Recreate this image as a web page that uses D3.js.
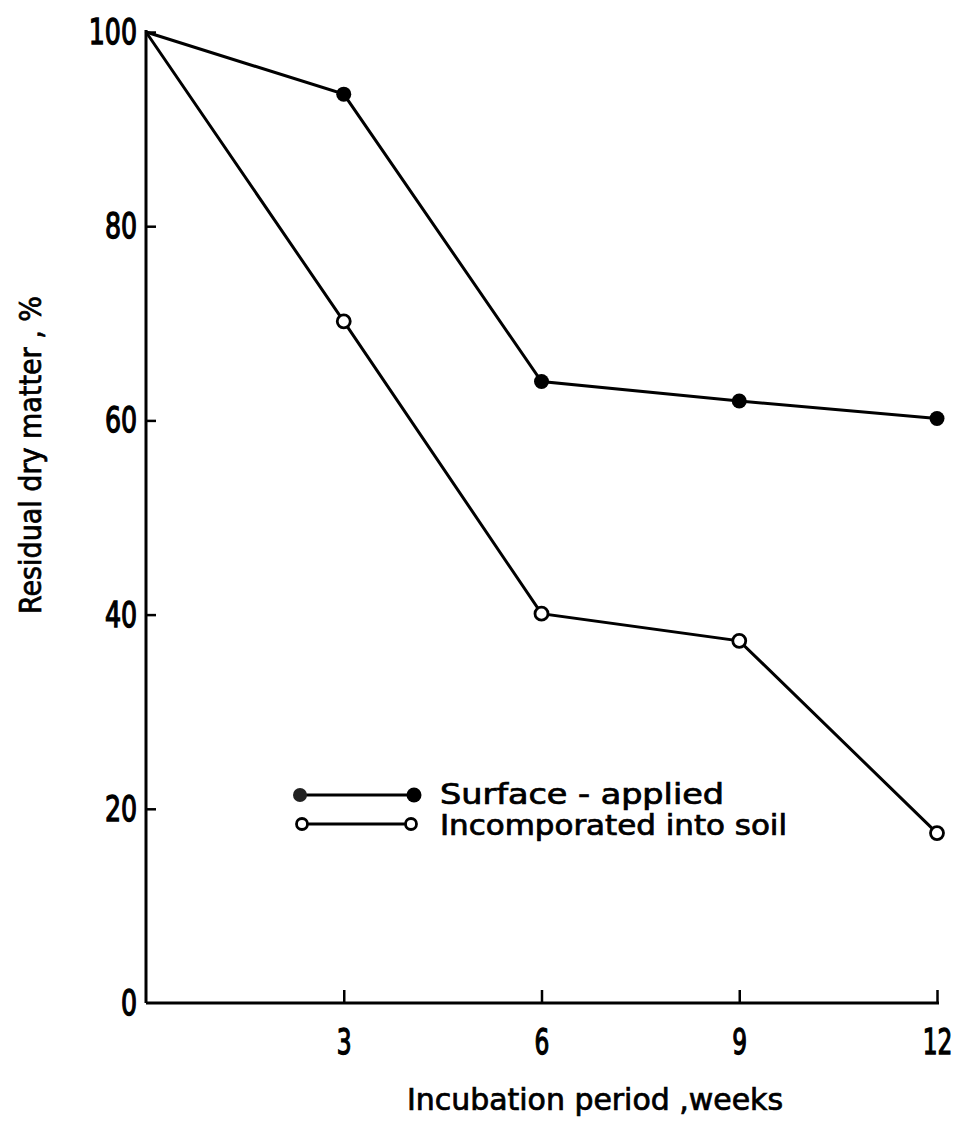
<!DOCTYPE html>
<html><head><meta charset="utf-8">
<script src="https://cdn.jsdelivr.net/npm/d3@7"></script>
<style>body{margin:0;background:#fff}svg{display:block}</style>
</head><body>
<svg id="c" width="960" height="1122"></svg>
<script>
const weeks = [0, 3, 6, 9, 12];
const surfaceApplied = [100, 93.6, 64.0, 62.0, 60.2];
const incorporated = [100, 70.2, 40.1, 37.3, 17.5];
const xTicks = [3, 6, 9, 12];
const yTicks = [0, 20, 40, 60, 80, 100];
const seriesNames = ["Surface - applied", "Incomporated into soil"];

const svg = d3.select("#c");
const font = "'DejaVu Sans Condensed', 'DejaVu Sans', sans-serif";
const x = d3.scaleLinear().domain([0, 12]).range([146, 937]);
const y = d3.scaleLinear().domain([0, 100]).range([1003, 32]);

function styleText(sel, size, sw) {
  sel.attr("font-family", font).attr("font-size", size).attr("fill", "#000")
     .attr("stroke", "#000").attr("stroke-width", sw || 0.7).attr("lengthAdjust", "spacingAndGlyphs");
}

// axes
const sxX = 0.72, sxY = 0.78;
const xAxis = d3.axisBottom(x).tickValues(xTicks).tickSize(-13).tickPadding(25).tickFormat(d3.format("d"));
const gx = svg.append("g").attr("transform", `translate(0,${y(0)})`).call(xAxis);
gx.select(".domain").attr("d", `M${x(0)},0H${x(12)+2}`).attr("stroke-width", 3);
gx.selectAll(".tick line").attr("stroke-width", 2.5);
gx.selectAll("text").call(styleText, 36, 1.3).attr("dy", "0.71em")
  .attr("transform", `scale(${sxX},1)`);

const yAxis = d3.axisLeft(y).tickValues(yTicks).tickSize(-10).tickPadding(10).tickFormat(d3.format("d"));
const gy = svg.append("g").attr("transform", `translate(${x(0)},0)`).call(yAxis);
gy.select(".domain").attr("d", `M0,${y(100)-2}V${y(0)}`).attr("stroke-width", 3);
gy.selectAll(".tick line").attr("stroke-width", 2.5);
gy.selectAll(".tick").filter(d => d === 0).select("line").remove();
gy.selectAll("text").call(styleText, 36, 1.3).attr("x", -9 / sxY)
  .attr("transform", `scale(${sxY},1)`);

// lines
const line = d3.line().x((d, i) => x(weeks[i])).y(d => y(d));
[surfaceApplied, incorporated].forEach(s => {
  svg.append("path").attr("d", line(s)).attr("fill", "none").attr("stroke", "#000").attr("stroke-width", 3);
});
svg.selectAll(".pS").data(surfaceApplied.slice(1)).join("circle")
  .attr("cx", (d, i) => x(weeks[i + 1])).attr("cy", d => y(d)).attr("r", 7.5).attr("fill", "#000");
svg.selectAll(".pI").data(incorporated.slice(1)).join("circle")
  .attr("cx", (d, i) => x(weeks[i + 1])).attr("cy", d => y(d)).attr("r", 6.5)
  .attr("fill", "#fff").attr("stroke", "#000").attr("stroke-width", 2.8);

// legend
const lg = svg.append("g");
lg.append("line").attr("x1", 300).attr("x2", 413).attr("y1", 795).attr("y2", 795).attr("stroke", "#000").attr("stroke-width", 3);
lg.append("circle").attr("cx", 300).attr("cy", 795).attr("r", 7).attr("fill", "#222");
lg.append("circle").attr("cx", 414).attr("cy", 795).attr("r", 7.5).attr("fill", "#000");
lg.append("line").attr("x1", 302).attr("x2", 412).attr("y1", 824).attr("y2", 824).attr("stroke", "#000").attr("stroke-width", 3);
lg.append("circle").attr("cx", 302).attr("cy", 824).attr("r", 5.5).attr("fill", "#fff").attr("stroke", "#000").attr("stroke-width", 2.8);
lg.append("circle").attr("cx", 411).attr("cy", 824).attr("r", 5.5).attr("fill", "#fff").attr("stroke", "#000").attr("stroke-width", 2.8);
lg.append("text").attr("x", 440).attr("y", 804).text(seriesNames[0])
  .call(styleText, 28).attr("textLength", 284);
lg.append("text").attr("x", 440).attr("y", 835).text(seriesNames[1])
  .call(styleText, 28).attr("textLength", 347);

// titles
svg.append("text").attr("x", 595).attr("y", 1110).attr("text-anchor", "middle")
  .call(styleText, 30).attr("textLength", 376).text("Incubation period ,weeks");
svg.append("text").attr("transform", "translate(41,455) rotate(-90)").attr("text-anchor", "middle")
  .call(styleText, 30).attr("textLength", 318).text("Residual dry matter , %");
</script>
</body></html>
